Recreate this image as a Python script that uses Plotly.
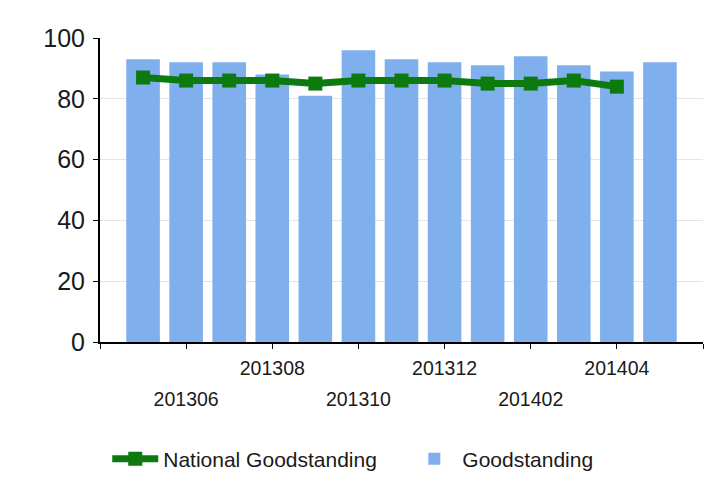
import plotly.graph_objects as go

# Meses (AAAAMM) e valores
months = ['201305', '201306', '201307', '201308', '201309', '201310', '201311',
          '201312', '201401', '201402', '201403', '201404', '201405']
goodstanding = [93, 92, 92, 88, 81, 96, 93, 92, 91, 94, 91, 89, 92]
national = [87, 86, 86, 86, 85, 86, 86, 86, 85, 85, 86, 84]

# Rótulos do eixo x: alternados em duas linhas
upper_labels = ['201308', '201312', '201404']
lower_labels = ['201306', '201310', '201402']

pos = list(range(len(months)))
tick_pos = [-1] + pos[1::2] + [len(months)]
upper_text = [''] + [m if m in upper_labels else '' for m in months[1::2]] + ['']
lower_pos = [pos[months.index(m)] for m in lower_labels]

font_family = 'Arial, Liberation Sans, sans-serif'

fig = go.Figure()

# Barras (eixo x principal)
fig.add_trace(
    go.Bar(
        x=pos,
        y=goodstanding,
        name='Goodstanding',
        width=0.78,
        marker=dict(color='#80AFEE', line=dict(width=0)),
        legend='legend2',
    )
)

# Linha nacional (eixo sobreposto, desenhado por cima das barras)
fig.add_trace(
    go.Scatter(
        x=pos[:len(national)],
        y=national,
        xaxis='x2',
        mode='lines+markers',
        name='National Goodstanding',
        line=dict(color='#0D7A10', width=7),
        marker=dict(symbol='square', size=14, color='#0D7A10'),
        legend='legend',
    )
)

legend_style = dict(
    orientation='h',
    xanchor='left',
    y=-0.385,
    yanchor='middle',
    font=dict(size=21, color='#1a1a1a'),
    itemwidth=46,
    bgcolor='rgba(0,0,0,0)',
)

# A página tem 8px de margem no body: compensar no tamanho
fig.update_layout(
    width=707,
    height=483,
    margin=dict(l=92, r=12, t=30, b=146),
    paper_bgcolor='white',
    plot_bgcolor='white',
    font=dict(family=font_family, color='#1a1a1a'),
    showlegend=True,
    legend=dict(legend_style, x=0.012),
    legend2=dict(legend_style, x=0.508),
    xaxis=dict(
        range=[-1, len(months)],
        tickmode='array',
        tickvals=tick_pos,
        ticktext=upper_text,
        showgrid=False,
        zeroline=False,
        showline=True,
        linecolor='black',
        linewidth=2,
        ticks='outside',
        ticklen=5,
        tickwidth=1,
        tickcolor='black',
        ticklabelstandoff=3,
        tickfont=dict(size=19.5, color='#1a1a1a'),
    ),
    xaxis2=dict(
        overlaying='x',
        anchor='y',
        side='bottom',
        range=[-1, len(months)],
        tickmode='array',
        tickvals=lower_pos,
        ticktext=lower_labels,
        showgrid=False,
        zeroline=False,
        showline=False,
        ticks='',
        ticklabelstandoff=43,
        tickfont=dict(size=19.5, color='#1a1a1a'),
    ),
    yaxis=dict(
        range=[0, 100],
        tickmode='array',
        tickvals=[0, 20, 40, 60, 80, 100],
        showgrid=True,
        gridcolor='#e4e4e4',
        gridwidth=1,
        zeroline=False,
        showline=True,
        linecolor='black',
        linewidth=2,
        ticks='outside',
        ticklen=5,
        tickwidth=1,
        tickcolor='black',
        ticklabelstandoff=3,
        tickfont=dict(size=25, color='#1a1a1a'),
    ),
)

fig.write_html('out.html')
